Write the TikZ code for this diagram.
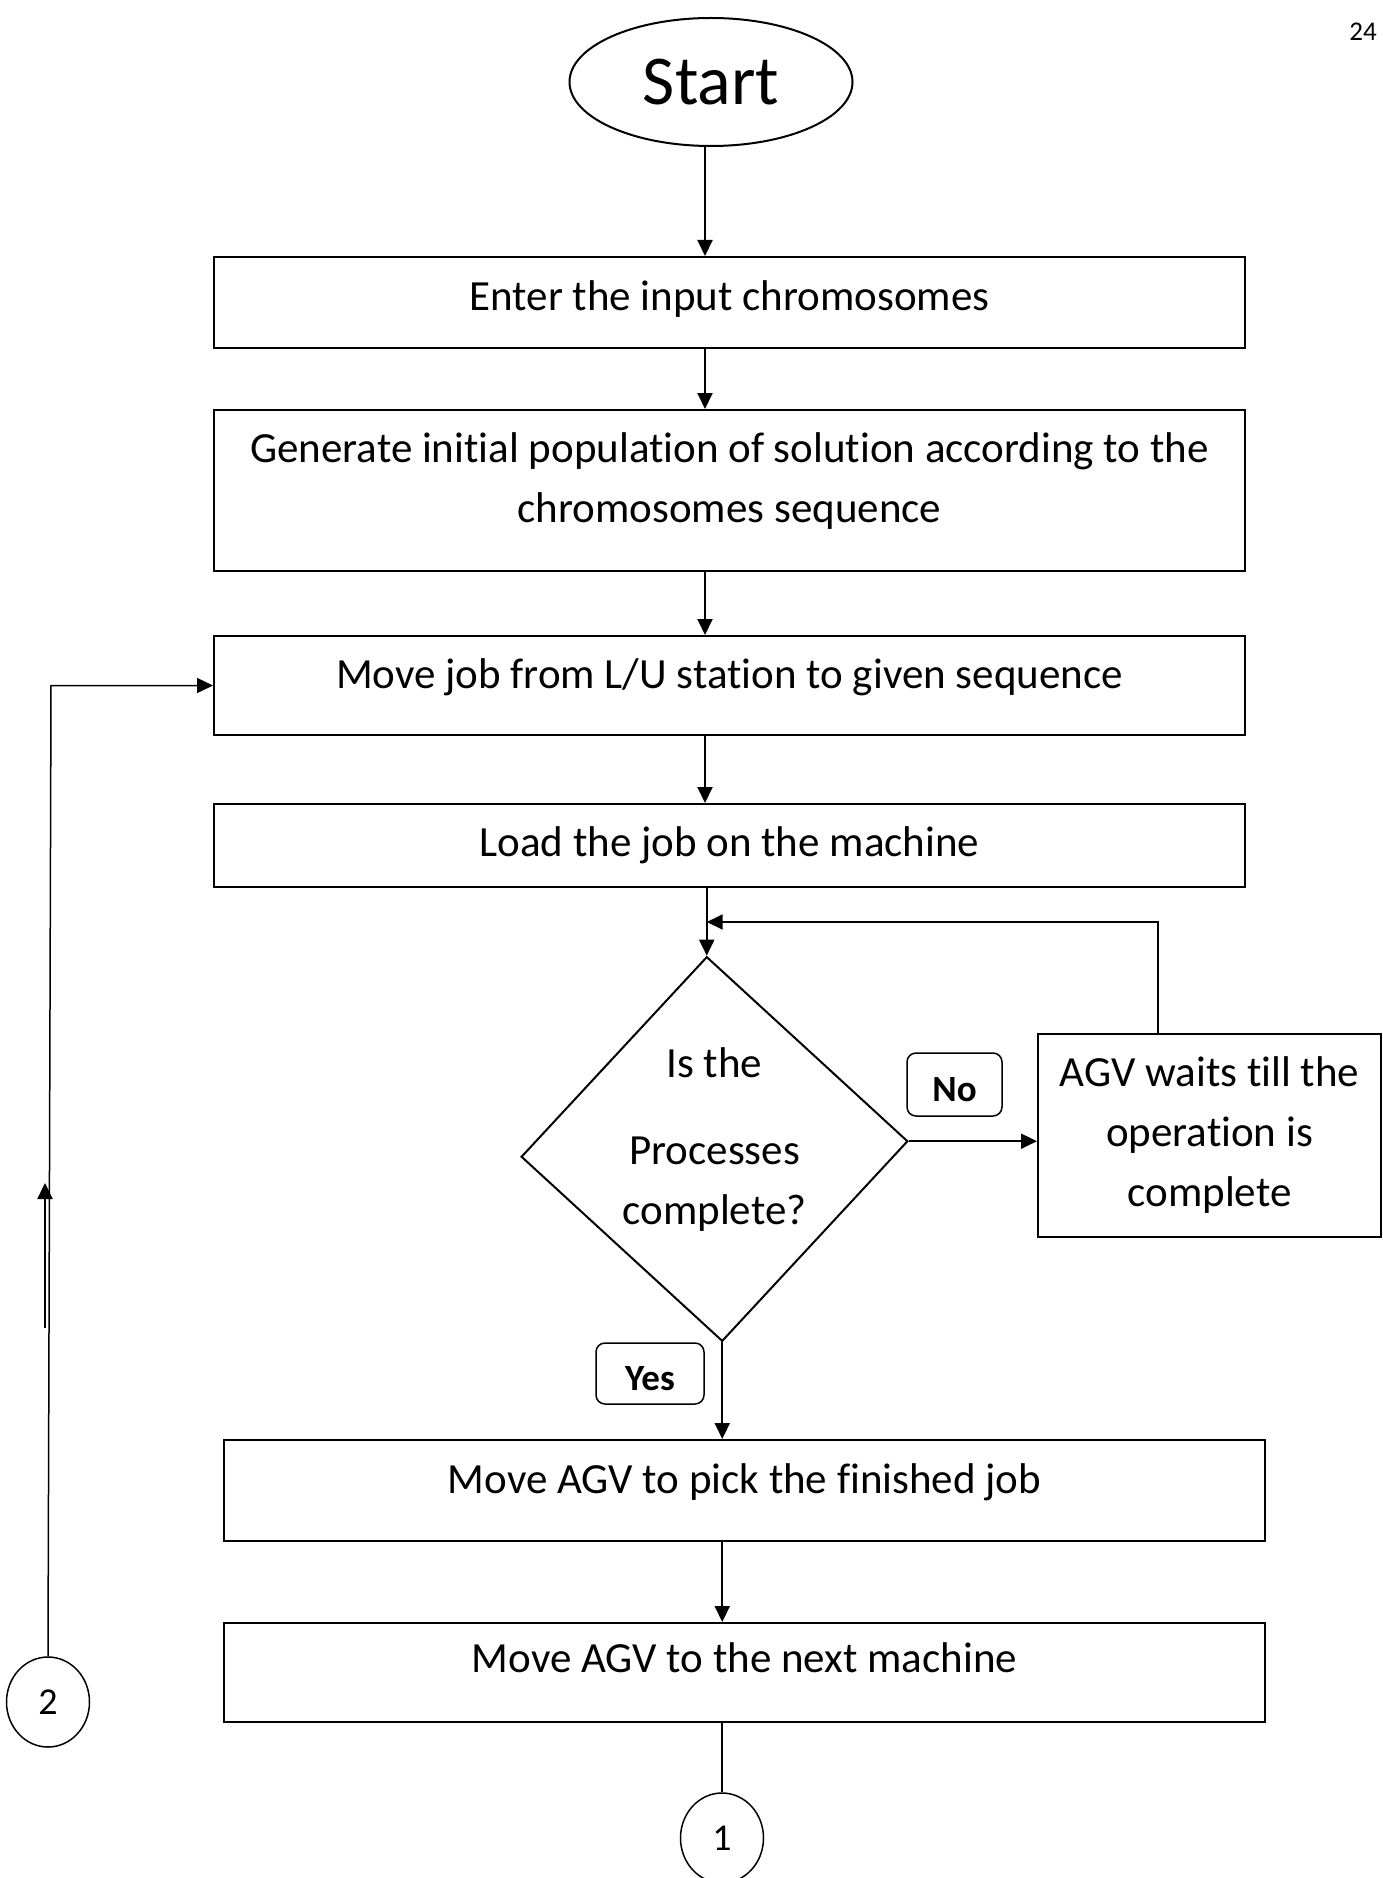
\documentclass[tikz,border=0pt]{standalone}
\usepackage{fontspec}
\setmainfont[Ligatures={NoCommon,NoContextual}]{Carlito}
\usetikzlibrary{shapes.geometric,arrows.meta}
\begin{document}
\begin{tikzpicture}[x=1pt,y=-1pt,
  line width=2pt,
  every node/.style={inner sep=0pt},
  body/.style={font=\fontsize{43}{60}\selectfont},
  proc/.style={draw, rectangle, body, align=center},
  term/.style={draw, ellipse},
  decision/.style={draw, diamond},
  tag/.style={draw, rounded corners=9pt, line width=1.5pt, text height=33pt, text depth=0pt, font=\bfseries\fontsize{37}{44}\selectfont},
  conn/.style={draw, ellipse, line width=1.5pt, minimum width=83pt, minimum height=90pt, font=\fontsize{38}{44}\selectfont},
  flow/.style={-{Triangle[length=16pt,width=15pt]}},
]
\useasboundingbox (0,0) rectangle (1382,1878);

% page number
\node[font=\fontsize{27}{30}\selectfont] (pg) at (1363,32) {24};

% main column
\node[term, minimum width=283pt, minimum height=128pt, font=\fontsize{70}{80}\selectfont] (start) at (711,82) {Start};
\node[proc, minimum width=1031pt, minimum height=91pt, text depth=14pt] (b1) at (729.5,302.5) {Enter the input chromosomes};
\node[proc, minimum width=1031pt, minimum height=161pt, text depth=26pt] (b2) at (729.5,490.5) {Generate initial population of solution according to the\\chromosomes sequence};
\node[proc, minimum width=1031pt, minimum height=99pt, text depth=24pt] (b3) at (729.5,685.5) {Move job from L/U station to given sequence};
\node[proc, minimum width=1031pt, minimum height=83pt] (b4) at (729.5,845.5) {Load the job on the machine};

\node[decision, rotate=2.3, minimum width=387pt, minimum height=385pt] (dia) at (714.5,1149) {};
\node[body, align=center] (diatext) at (714.5,1140) {Is the\\[27pt]Processes\\complete?};

\node[proc, minimum width=343pt, minimum height=203pt] (agv) at (1209.5,1135.5) {AGV waits till the\\operation is\\complete};

\node[proc, minimum width=1041pt, minimum height=101pt, text depth=24pt] (b5) at (744.5,1490.5) {Move AGV to pick the finished job};
\node[proc, minimum width=1041pt, minimum height=99pt, text depth=30pt] (b6) at (744.5,1672.5) {Move AGV to the next machine};

% branch tags
\node[tag, minimum width=95pt, minimum height=63pt] (no) at (954.5,1084.5) {No};
\node[tag, minimum width=108pt, minimum height=61pt] (yes) at (650,1373.5) {Yes};

% off-page connectors
\node[conn] (c1) at (722,1838) {1};
\node[conn] (c2) at (48,1702) {2};

% spine arrows
\coordinate (spine) at (705,0);
\draw[flow] (spine |- start.south) -- (spine |- b1.north);
\draw[flow] (spine |- b1.south) -- (spine |- b2.north);
\draw[flow] (spine |- b2.south) -- (spine |- b3.north);
\draw[flow] (spine |- b3.south) -- (spine |- b4.north);
\draw[flow] (dia.north |- b4.south) -- (dia.north);

% "No" branch and return
\draw[flow] (dia.east) -- (dia.east -| agv.west);
\coordinate (ret) at (1158,922);
\draw[flow] (agv.north -| ret) -- (ret) -- (ret -| dia.north);

% "Yes" branch
\draw[flow] (dia.south) -- (dia.south |- b5.north);
\draw[flow] (dia.south |- b5.south) -- (dia.south |- b6.north);
\draw (c1.north |- b6.south) -- (c1.north);

% return from connector 2
\coordinate (bend) at (51,0);
\draw[flow, line width=1.5pt] (c2.north) -- (bend |- b3.west) -- (b3.west);
\coordinate (upt) at (45,1183);
\coordinate (upb) at (45,1328);
\draw[flow, line width=2.4pt] (upb) -- (upt);
\end{tikzpicture}
\end{document}
